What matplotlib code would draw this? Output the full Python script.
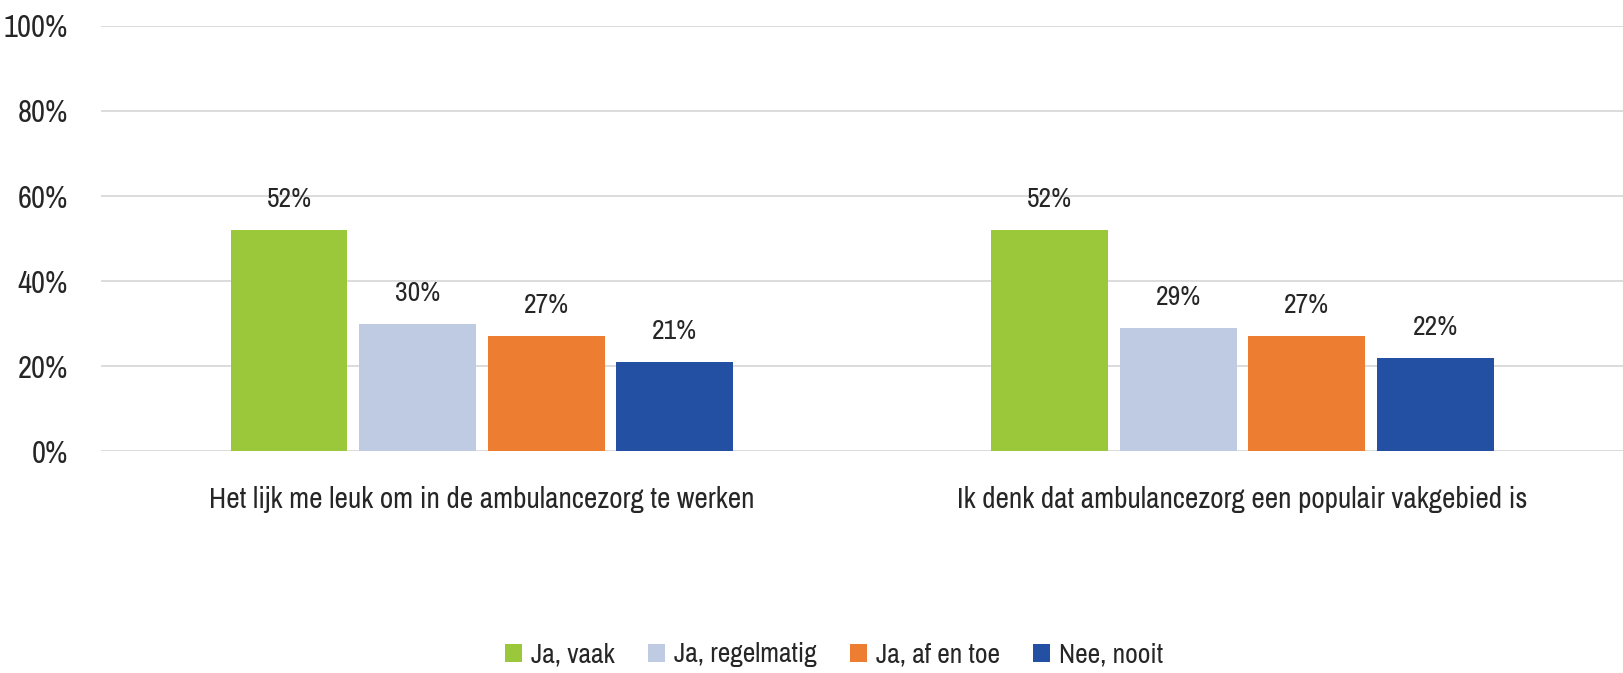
import matplotlib
matplotlib.use("Agg")
import matplotlib.pyplot as plt
from matplotlib import font_manager as fm
from matplotlib.patches import Patch
import numpy as np

categories = ["Het lijk me leuk om in de ambulancezorg te werken",
              "Ik denk dat ambulancezorg een populair vakgebied is"]
series_names = ["Ja, vaak", "Ja, regelmatig", "Ja, af en toe", "Nee, nooit"]
values = {
    "Ja, vaak": [52, 52],
    "Ja, regelmatig": [30, 29],
    "Ja, af en toe": [27, 27],
    "Nee, nooit": [21, 22],
}
colors = ["#9BC83B", "#BECBE2", "#ED7D31", "#2350A3"]
yticks = [0, 20, 40, 60, 80, 100]


# pick the narrowest available font
def pick_font():
    fl = fm.fontManager.ttflist
    def find(pred):
        for f in fl:
            if pred(f):
                return f.fname
        return None
    checks = [
        lambda f: 'narrow' in f.name.lower() and f.weight in (400, 'normal') and f.style == 'normal',
        lambda f: 'condensed' in f.name.lower() and 'light' in f.fname.lower() and f.style == 'normal',
        lambda f: 'condensed' in f.name.lower() and f.style == 'normal' and 'bold' not in f.fname.lower(),
        lambda f: 'condensed' in f.fname.lower() and f.style == 'normal' and 'bold' not in f.fname.lower()
                  and 'oblique' not in f.fname.lower(),
        lambda f: f.name == 'Roboto' and 'light' in f.fname.lower() and 'italic' not in f.fname.lower(),
        lambda f: f.name == 'Roboto' and 'regular' in f.fname.lower(),
    ]
    for c in checks:
        r = find(c)
        if r:
            return r
    return None


fname = pick_font()
if fname:
    fp_base = fm.FontProperties(fname=fname)
else:
    fp_base = fm.FontProperties(family='DejaVu Sans')

text_color = "#262626"
fig = plt.figure(figsize=(16.23, 6.73), dpi=100)
renderer = fig.canvas.get_renderer()


def size_for(text, target_px):
    fp = fp_base.copy()
    fp.set_size(20)
    t = fig.text(0, 0, text, fontproperties=fp)
    w = t.get_window_extent(renderer).width
    t.remove()
    return 20 * target_px / w


cat_size = size_for(categories[0], 524) * 1.04
tick_size = size_for("100%", 56) * 1.15
data_size = size_for("52%", 37) * 1.22
leg_size = size_for("Ja, vaak", 78) * 1.08


def fpc(size):
    fp = fp_base.copy()
    fp.set_size(size)
    return fp


ax = fig.add_axes([0.0625, 0.3294, 0.9375, 0.6321])

x = np.arange(len(categories))
bw = 0.1536
slot = 0.169
n = len(series_names)
for i, name in enumerate(series_names):
    pos = x + (i - (n - 1) / 2) * slot
    bars = ax.bar(pos, values[name], width=bw, color=colors[i], zorder=3)
    for b, v in zip(bars, values[name]):
        ax.annotate(f"{v}%", (b.get_x() + b.get_width() / 2, v),
                    xytext=(0, 22), textcoords="offset points",
                    ha="center", va="center", fontproperties=fpc(data_size),
                    color=text_color)

ax.set_xlim(-0.5, 1.5)
ax.set_ylim(0, 100)
ax.set_yticks(yticks)
ax.set_yticklabels([f"{t}%" for t in yticks], fontproperties=fpc(tick_size),
                   color=text_color)
ax.tick_params(axis='y', length=0, pad=24)
ax.set_xticks(x)
ax.set_xticklabels(categories, fontproperties=fpc(cat_size), color=text_color)
ax.tick_params(axis='x', length=0, pad=25)
ax.grid(axis='y', color="#d9d9d9", linewidth=1.3, zorder=0)
for s in ax.spines.values():
    s.set_visible(False)

fs_px = leg_size * 100 / 72
handles = [Patch(facecolor=c, edgecolor='none') for c in colors]
fig.legend(handles, series_names, loc='center', bbox_to_anchor=(0.514, 0.027),
           ncol=4, frameon=False, prop=fpc(leg_size),
           handlelength=17 / fs_px, handleheight=17 / fs_px,
           handletextpad=9 / fs_px, columnspacing=33 / fs_px,
           borderaxespad=0, labelcolor=text_color)

fig.savefig("out.png", dpi=100)
